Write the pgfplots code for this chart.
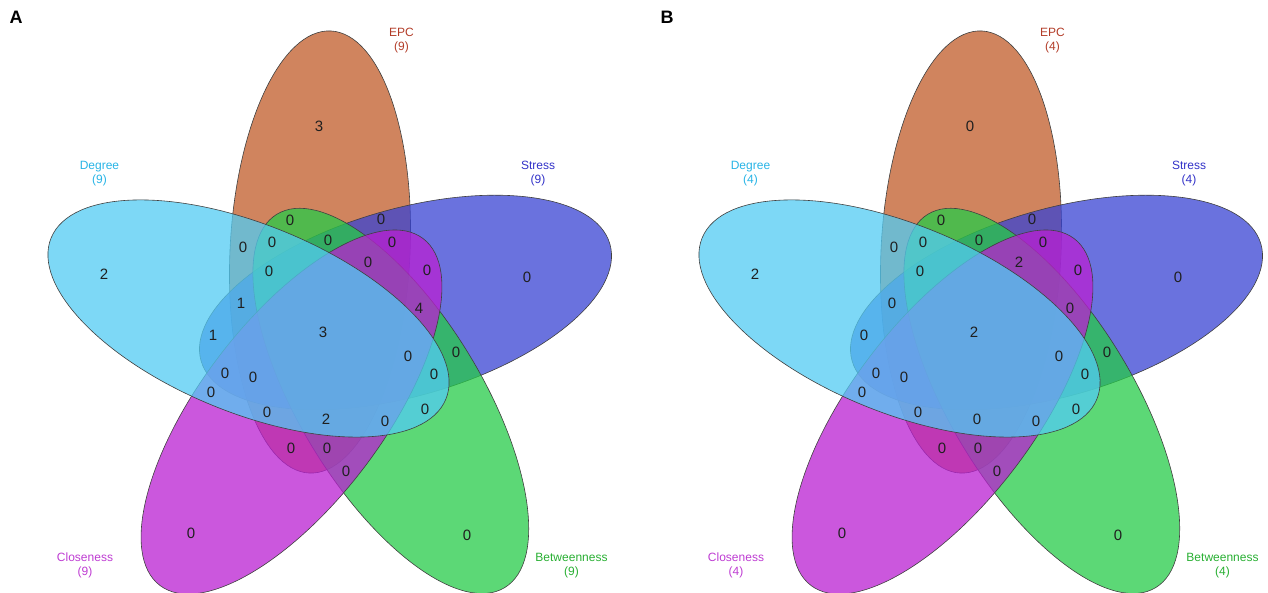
\documentclass[border=0pt]{standalone}
\usepackage{fontspec}
\setmainfont{Liberation Sans}
\usepackage{pgfplots}
\pgfplotsset{compat=1.18}
\usepackage{pgfplotstable}

\definecolor{cEPC}{RGB}{192,91,40}
\definecolor{cDeg}{RGB}{82,203,243}
\definecolor{cStr}{RGB}{56,67,211}
\definecolor{cClo}{RGB}{186,31,210}
\definecolor{cBet}{RGB}{38,203,72}
\definecolor{tEPC}{RGB}{178,60,40}
\definecolor{tDeg}{RGB}{40,180,230}
\definecolor{tStr}{RGB}{50,50,200}
\definecolor{tClo}{RGB}{190,60,210}
\definecolor{tBet}{RGB}{40,175,50}

% #1 colour, #2 cx, #3 cy, #4 angle, #5 semi-major, #6 semi-minor (pixels)
\newcommand{\vell}[6]{%
  \path[fill=#1, fill opacity=0.75, draw=black!75, draw opacity=1, line width=0.6pt,
        rotate around={#4:(axis cs:#2,#3)}]
    (axis cs:#2,#3) ellipse [x radius=#5pt, y radius=#6pt];}

\pgfplotstableread{
x y n
319 126 3
104 274 2
527 277 0
191 533 0
467 535 0
290 220 0
381 219 0
243 247 0
272 242 0
328 240 0
392 242 0
269 271 0
368 262 0
427 270 0
241 303 1
213 335 1
323 332 3
419 308 4
408 356 0
456 352 0
225 373 0
253 377 0
434 374 0
211 392 0
425 409 0
267 412 0
326 419 2
385 421 0
291 448 0
327 448 0
346 471 0
}\countsA

\pgfplotstableread{
x y n
970 126 0
755 274 2
1178 277 0
842 533 0
1118 535 0
941 220 0
1032 219 0
894 247 0
923 242 0
979 240 0
1043 242 0
920 271 0
1019 262 2
1078 270 0
892 303 0
864 335 0
974 332 2
1070 308 0
1059 356 0
1107 352 0
876 373 0
904 377 0
1085 374 0
862 392 0
1076 409 0
918 412 0
977 419 0
1036 421 0
942 448 0
978 448 0
997 471 0
}\countsB

\begin{document}
\begin{tikzpicture}
\begin{axis}[
  scale only axis, width=1268pt, height=593pt,
  xmin=0, xmax=1268, ymin=0, ymax=593, y dir=reverse,
  hide axis,
]
% Panel A ellipses (drawing order EPC, Stress, Betweenness, Closeness, Degree)
\vell{cEPC}{320}{252}{87.2}{221.3}{90}
\vell{cStr}{405.5}{302.5}{15.95}{212.6}{93.6}
\vell{cBet}{390.8}{400.9}{121.4}{218.7}{91}
\vell{cClo}{291.5}{412}{52.8}{217.7}{91.4}
\vell{cDeg}{248.5}{318.5}{157.8}{213.2}{94}
% Panel B ellipses
\vell{cEPC}{971}{252}{87.2}{221.3}{90}
\vell{cStr}{1056.5}{302.5}{15.95}{212.6}{93.6}
\vell{cBet}{1041.8}{400.9}{121.4}{218.7}{91}
\vell{cClo}{942.5}{412}{52.8}{217.7}{91.4}
\vell{cDeg}{899.5}{318.5}{157.8}{213.2}{94}

\addplot[draw=none, mark=none, nodes near coords, nodes near coords align=center,
  point meta=explicit symbolic,
  every node near coord/.append style={font=\fontsize{15}{15}\selectfont, text=black!88, inner sep=0pt}]
  table[x=x, y=y, meta=n] {\countsA};
\addplot[draw=none, mark=none, nodes near coords, nodes near coords align=center,
  point meta=explicit symbolic,
  every node near coord/.append style={font=\fontsize{15}{15}\selectfont, text=black!88, inner sep=0pt}]
  table[x=x, y=y, meta=n] {\countsB};

% set labels
\begin{scope}[every node/.style={font=\fontsize{12}{14}\selectfont, align=center, inner sep=0pt}]
\node[text=tEPC] at (axis cs:401.5,40.5) {EPC\\(9)};
\node[text=tDeg] at (axis cs:99.5,173.5) {Degree\\(9)};
\node[text=tStr] at (axis cs:538,173.5) {Stress\\(9)};
\node[text=tClo] at (axis cs:85,565) {Closeness\\(9)};
\node[text=tBet] at (axis cs:571.5,565.5) {Betweenness\\(9)};
\node[text=tEPC] at (axis cs:1052.5,40.5) {EPC\\(4)};
\node[text=tDeg] at (axis cs:750.5,173.5) {Degree\\(4)};
\node[text=tStr] at (axis cs:1189,173.5) {Stress\\(4)};
\node[text=tClo] at (axis cs:736,565) {Closeness\\(4)};
\node[text=tBet] at (axis cs:1222.5,565.5) {Betweenness\\(4)};
\end{scope}
\node[font=\fontsize{18}{18}\selectfont\bfseries, inner sep=0pt] at (axis cs:16,17) {A};
\node[font=\fontsize{18}{18}\selectfont\bfseries, inner sep=0pt] at (axis cs:667,17) {B};
\end{axis}
\pgfresetboundingbox
\path (current axis.south west) rectangle (current axis.north east);
\end{tikzpicture}
\end{document}
